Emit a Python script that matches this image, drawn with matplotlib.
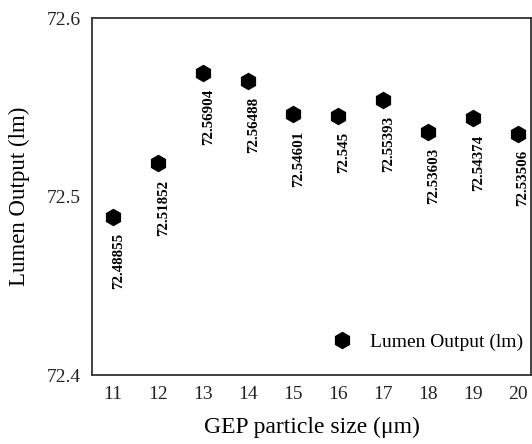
import matplotlib
matplotlib.use("Agg")
import matplotlib.pyplot as plt

sizes = [11, 12, 13, 14, 15, 16, 17, 18, 19, 20]
lumen = [72.48855, 72.51852, 72.56904, 72.56488, 72.54601, 72.545, 72.55393, 72.53603, 72.54374, 72.53506]
labels = ["72.48855", "72.51852", "72.56904", "72.56488", "72.54601", "72.545", "72.55393", "72.53603", "72.54374", "72.53506"]
yticks = [72.4, 72.5, 72.6]

plt.rcParams['font.family'] = ['Liberation Serif', 'DejaVu Serif']

fig = plt.figure(figsize=(5.32, 4.44), dpi=100)
ax = fig.add_axes([92/532, 1-375/444, 439/532, 357/444])

ax.plot(sizes, lumen, linestyle='none', marker='h', markersize=11.5,
        color='black', label='Lumen Output (lm)')
for x, y, t in zip(sizes, lumen, labels):
    ax.annotate(t, (x, y), xytext=(4, -11.5), textcoords='offset points',
                rotation=90, ha='center', va='top', fontsize=10.8, fontweight='bold')

ax.set_xlim(10.53, 20.3)
ax.set_ylim(72.4, 72.6)
ax.set_xticks(sizes)
ax.set_yticks(yticks)
ax.set_yticklabels([f"{v:.1f}" for v in yticks])
ax.tick_params(axis='both', length=0, labelsize=14, pad=8, colors='#222222')
for s in ax.spines.values():
    s.set_linewidth(1.3)
    s.set_color('#333333')

ax.set_xlabel('GEP particle size (μm)', fontsize=17, labelpad=10)
ax.set_ylabel('Lumen Output (lm)', fontsize=16.5, labelpad=12)

ax.legend(loc='lower right', bbox_to_anchor=(1.0, 0.045), frameon=False,
          fontsize=14, handletextpad=0.45, borderaxespad=0.0, markerscale=1.0)

fig.savefig('out.png', dpi=100)
